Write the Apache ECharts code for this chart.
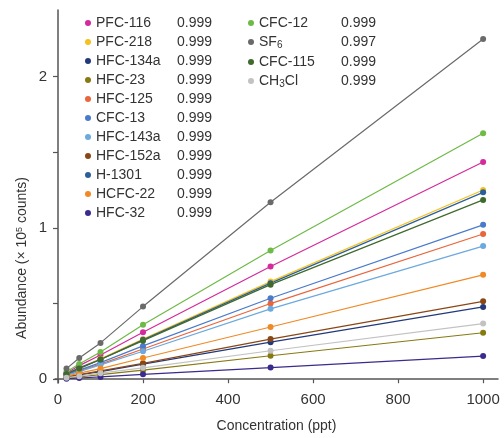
<!DOCTYPE html>
<html>
<head>
<meta charset="utf-8">
<script src="https://cdn.jsdelivr.net/npm/echarts@6/dist/echarts.min.js"></script>
<style>html,body{margin:0;padding:0;background:#fff;}#c{width:504px;height:438px;}</style>
</head>
<body>
<div id="c"></div>
<script>
// ---- data ----
const concentrations = [20, 50, 100, 200, 500, 1000];
const xTicks = [0, 200, 400, 600, 800, 1000];
const yTicks = [0, 0.5, 1, 1.5, 2];
const yLabels = [0, 1, 2];

const seriesNames = ['PFC-116','PFC-218','HFC-134a','HFC-23','HFC-125','CFC-13','HFC-143a','HFC-152a','H-1301','HCFC-22','HFC-32','CFC-12','SF6','CFC-115','CH3Cl'];
const r2Values    = ['0.999','0.999','0.999','0.999','0.999','0.999','0.999','0.999','0.999','0.999','0.999','0.999','0.997','0.999','0.999'];
const colors      = ['#d42a9c','#f4c21a','#22397a','#877a12','#e9653b','#4a7bcb','#6ba9de','#8a4716','#2b5f9c','#f08a26','#3a2b8c','#6dba46','#6a6a6a','#3f6a2b','#c2c2c2'];

const PFC116  = [0.040, 0.090, 0.160, 0.310, 0.745, 1.435];
const PFC218  = [0.035, 0.075, 0.135, 0.265, 0.645, 1.250];
const HFC134a = [0.012, 0.028, 0.050, 0.100, 0.245, 0.478];
const HFC23   = [0.008, 0.015, 0.030, 0.060, 0.155, 0.307];
const HFC125  = [0.030, 0.055, 0.100, 0.200, 0.500, 0.960];
const CFC13   = [0.030, 0.060, 0.110, 0.220, 0.535, 1.020];
const HFC143a = [0.025, 0.050, 0.095, 0.185, 0.465, 0.880];
const HFC152a = [0.015, 0.030, 0.055, 0.105, 0.265, 0.515];
const H1301   = [0.035, 0.075, 0.130, 0.260, 0.635, 1.235];
const HCFC22  = [0.020, 0.040, 0.070, 0.140, 0.345, 0.690];
const HFC32   = [0.003, 0.008, 0.015, 0.032, 0.077, 0.153];
const CFC12   = [0.050, 0.100, 0.180, 0.360, 0.850, 1.625];
const SF6     = [0.070, 0.140, 0.240, 0.480, 1.169, 2.248];
const CFC115  = [0.035, 0.070, 0.130, 0.255, 0.625, 1.185];
const CH3Cl   = [0.010, 0.020, 0.040, 0.075, 0.188, 0.368];

const seriesValues = [PFC116, PFC218, HFC134a, HFC23, HFC125, CFC13, HFC143a, HFC152a, H1301, HCFC22, HFC32, CFC12, SF6, CFC115, CH3Cl];

// ---- chart ----
const FONT = '"Liberation Sans", Arial, sans-serif';
const FS = 14;
const TXT = '#333';
const ctx = document.createElement('canvas').getContext('2d');
function textW(t, size) { ctx.font = size + 'px ' + FONT; return ctx.measureText(t).width; }

const subParts = { 'SF6': ['SF','6',''], 'CH3Cl': ['CH','3','Cl'] };
function legendFormatter(name) {
  const v = r2Values[seriesNames.indexOf(name)];
  if (subParts[name]) {
    const p = subParts[name];
    return '{n|' + p[0] + '}{s|' + p[1] + '}' + (p[2] ? '{n|' + p[2] + '}' : '') +
           '{g' + (name === 'SF6' ? 'a' : 'b') + '| }{v|' + v + '}';
  }
  return '{w|' + name + '}{v|' + v + '}';
}
function richFor(colW) {
  const gA = colW - (textW('SF', FS) + textW('6', 10));
  const gB = colW - (textW('CH', FS) + textW('3', 10) + textW('Cl', FS));
  return {
    w: { width: colW, fontSize: FS, color: TXT, fontFamily: FONT, lineHeight: 16 },
    n: { fontSize: FS, color: TXT, fontFamily: FONT, lineHeight: 16 },
    s: { fontSize: 10, color: TXT, fontFamily: FONT, lineHeight: 10, verticalAlign: 'bottom' },
    ga: { width: gA, fontSize: FS, lineHeight: 16 },
    gb: { width: gB, fontSize: FS, lineHeight: 16 },
    v: { fontSize: FS, color: TXT, fontFamily: FONT, lineHeight: 16 }
  };
}

const series = seriesNames.map((name, i) => ({
  name: name,
  type: 'line',
  data: concentrations.map((x, j) => [x, seriesValues[i][j]]),
  symbol: 'circle',
  symbolSize: 6,
  showSymbol: true,
  color: colors[i],
  lineStyle: { width: 1.2, color: colors[i] },
  itemStyle: { color: colors[i] },
  emphasis: { disabled: true },
  animation: false
}));

const legendBase = {
  orient: 'vertical',
  icon: 'circle',
  itemWidth: 6,
  itemHeight: 6,
  itemGap: 5,
  padding: 0,
  selectedMode: false,
  formatter: legendFormatter
};

const chart = echarts.init(document.getElementById('c'), null, { renderer: 'canvas' });
chart.setOption({
  animation: false,
  backgroundColor: '#fff',
  textStyle: { fontFamily: FONT },
  grid: { left: 55, right: 6, top: 10, bottom: 53, containLabel: false },
  legend: [
    Object.assign({}, legendBase, {
      left: 85, top: 16,
      data: seriesNames.slice(0, 11),
      textStyle: { fontSize: FS, color: TXT, fontFamily: FONT, rich: richFor(81) }
    }),
    Object.assign({}, legendBase, {
      left: 248, top: 16,
      data: seriesNames.slice(11),
      textStyle: { fontSize: FS, color: TXT, fontFamily: FONT, rich: richFor(82) }
    })
  ],
  xAxis: {
    type: 'value',
    min: -7, max: 1035,
    name: 'Concentration (ppt)',
    nameLocation: 'middle',
    nameGap: 36,
    nameTextStyle: { fontSize: FS, color: TXT, fontFamily: FONT },
    axisLine: { onZero: true, lineStyle: { color: '#555', width: 1.5 } },
    axisTick: { show: true, length: 4, inside: false, customValues: xTicks, lineStyle: { color: '#555', width: 1.2 } },
    axisLabel: { customValues: xTicks, formatter: v => String(v), fontSize: 15, color: TXT, fontFamily: FONT, margin: 9 },
    splitLine: { show: false }
  },
  yAxis: {
    type: 'value',
    min: -0.025, max: 2.44,
    axisLine: { onZero: true, lineStyle: { color: '#555', width: 1.5 } },
    axisTick: { show: true, length: 5, inside: false, customValues: yTicks, lineStyle: { color: '#555', width: 1.2 } },
    axisLabel: { customValues: yLabels, formatter: v => String(v), fontSize: 15, color: TXT, fontFamily: FONT, margin: 8 },
    splitLine: { show: false }
  },
  graphic: [{
    type: 'text',
    x: 22, y: 258,
    rotation: Math.PI / 2,
    style: {
      text: 'Abundance (× 10{sup|5} counts)',
      fill: TXT,
      font: '14px ' + FONT,
      align: 'center',
      verticalAlign: 'middle',
      rich: {
        sup: { fontSize: 9, fill: TXT, fontFamily: FONT, verticalAlign: 'top', lineHeight: 9 }
      }
    }
  }],
  series: series
});
</script>
</body>
</html>
